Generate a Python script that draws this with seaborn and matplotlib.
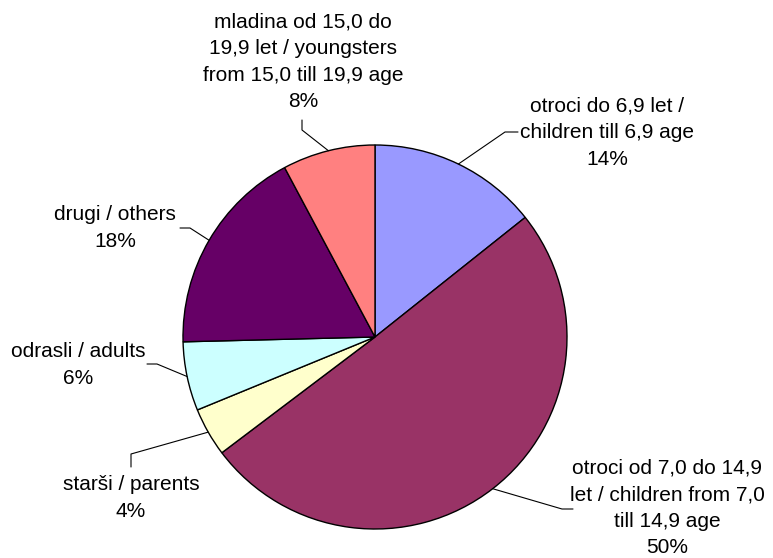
import numpy as np
import matplotlib
matplotlib.use("Agg")
import matplotlib.pyplot as plt
import seaborn as sns

# Data (clockwise from 12 o'clock)
categories = [
    "otroci do 6,9 let /\nchildren till 6,9 age",
    "otroci od 7,0 do 14,9\nlet / children from 7,0\ntill 14,9 age",
    "starši / parents",
    "odrasli / adults",
    "drugi / others",
    "mladina od 15,0 do\n19,9 let / youngsters\nfrom 15,0 till 19,9 age",
]
shares = [14.3, 50.4, 4.1, 5.8, 17.6, 7.8]
colors = ["#9999FF", "#993366", "#FFFFCC", "#CCFFFF", "#660066", "#FF8080"]

# Label layout in pixel coordinates (y from top):
# (text x, text center y, leader start x, leader start y, elbow x, elbow y)
LABEL_LAYOUT = [
    (607, 133, 518, 132, 505, 132),
    (667, 508, 573, 509, 562, 509),
    (131, 498, 131, 467, 131, 454),
    (78, 365, 147, 364, 157, 364),
    (115, 228, 180, 228, 190, 228),
    (303, 62, 302, 120, 302, 130),
]

W, H = 773, 558
CENTER = (375, H - 337)
RADIUS = 192

sns.set_style("white")
plt.rcParams['font.family'] = ['Liberation Sans', 'DejaVu Sans']

fig = plt.figure(figsize=(W / 100, H / 100), dpi=100)
ax = fig.add_axes([0, 0, 1, 1])

wedges, _ = ax.pie(shares, colors=colors, startangle=90, counterclock=False,
                   center=CENTER, radius=RADIUS,
                   wedgeprops=dict(edgecolor='black', linewidth=1.0))

total = sum(shares)
for w, name, val, (tx, ty, sx, sy, ex, ey) in zip(wedges, categories, shares, LABEL_LAYOUT):
    mid = np.deg2rad((w.theta1 + w.theta2) / 2)
    px = w.center[0] + w.r * np.cos(mid)
    py = w.center[1] + w.r * np.sin(mid)
    ax.plot([sx, ex, px], [H - sy, H - ey, py], color='black', linewidth=0.8)
    ax.text(tx, H - ty, f"{name}\n{round(val / total * 100):.0f}%", ha='center', va='center',
            fontsize=15, linespacing=1.5, color='black')

ax.set_xlim(0, W)
ax.set_ylim(0, H)
ax.set_aspect('auto')
ax.axis('off')

fig.savefig("out.png", dpi=100)
